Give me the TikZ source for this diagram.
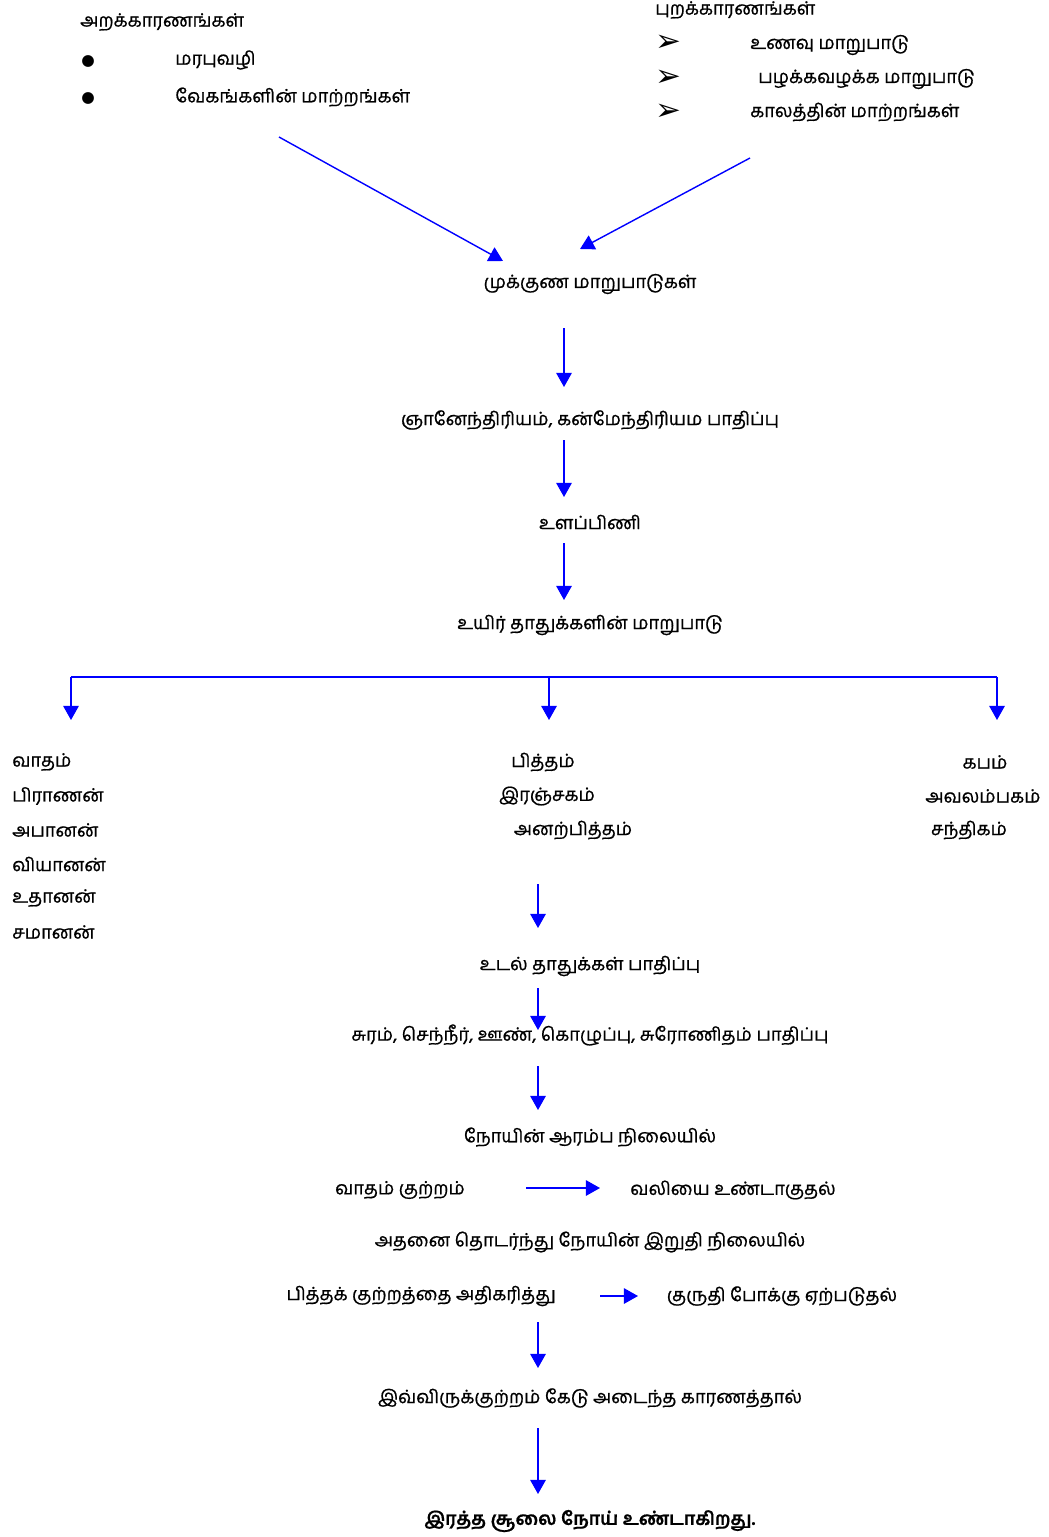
\documentclass[tikz,border=0pt]{standalone}
\usepackage{fontspec}
\setmainfont{Hind Madurai}[Script=Tamil, FakeBold=0.8]
\newfontfamily\symfont{DejaVu Sans}
\usetikzlibrary{arrows.meta,positioning}

\tikzset{
  txt/.style={inner sep=0pt, font=\fontsize{13}{15}\selectfont},
  mark sym/.style={inner sep=0pt, font=\symfont\fontsize{11}{11}\selectfont},
  arr/.style={draw=blue, line width=1pt, -{Triangle[width=11pt,length=10pt]}},
  bline/.style={draw=blue, line width=1pt},
}
\newcommand{\tick}{\scalebox{2}{\symfont ➢}}

\begin{document}
\begin{tikzpicture}[x=0.025cm,y=-0.025cm]
\useasboundingbox (0,0) rectangle (1048,1537);

% inner causes
\node[txt,anchor=west] (arak) at (80,22) {அறக்காரணங்கள்};
\node[mark sym] (b1) at (88,61) {●};
\node[txt,anchor=west] (marabu) at (175,60) {மரபுவழி};
\node[mark sym] (b2) at (88,98) {●};
\node[txt,anchor=west] (vegam) at (175,97) {வேகங்களின் மாற்றங்கள்};

% outer causes
\node[txt,anchor=west] (puram) at (655,10) {புறக்காரணங்கள்};
\node[mark sym] (p1) at (668,43) {\tick};
\node[mark sym] (p2) at (668,78) {\tick};
\node[mark sym] (p3) at (668,112) {\tick};
\node[txt,anchor=west] (unavu) at (750,45) {உணவு மாறுபாடு};
\node[txt,anchor=west] (pazhakkam) at (758,79) {பழக்கவழக்க மாறுபாடு};
\node[txt,anchor=west] (kaalam) at (750,112) {காலத்தின் மாற்றங்கள்};

\node[txt] (mukkunam) at (590,284) {முக்குண மாறுபாடுகள்};
\node[txt] (gnana) at (590,420) {ஞானேந்திரியம், கன்மேந்திரியம பாதிப்பு};
\node[txt] (ulappini) at (590,522) {உளப்பிணி};
\node[txt] (uyir) at (590,625) {உயிர் தாதுக்களின் மாறுபாடு};

% the three humours
\node[txt,anchor=west] (vatham) at (12,762) {வாதம்};
\node[txt,anchor=west] (pranan) at (12,796) {பிராணன்};
\node[txt,anchor=west] (abanan) at (12,830) {அபானன்};
\node[txt,anchor=west] (viyanan) at (12,864) {வியானன்};
\node[txt,anchor=west] (udhanan) at (12,898) {உதானன்};
\node[txt,anchor=west] (samanan) at (12,932) {சமானன்};
\node[txt] (pitham) at (543,762) {பித்தம்};
\node[txt] (ranjakam) at (547,796) {இரஞ்சகம்};
\node[txt] (anal) at (573,830) {அனற்பித்தம்};
\node[txt] (kabam) at (985,762) {கபம்};
\node[txt] (avalam) at (983,796) {அவலம்பகம்};
\node[txt] (santhi) at (969,830) {சந்திகம்};

\node[txt] (udal) at (590,966) {உடல் தாதுக்கள் பாதிப்பு};
\node[txt] (suram) at (590,1035) {சுரம், செந்நீர், ஊண், கொழுப்பு, சுரோணிதம் பாதிப்பு};
\node[txt] (arambam) at (590,1137) {நோயின் ஆரம்ப நிலையில்};
\node[txt] (vathakutram) at (400,1190) {வாதம் குற்றம்};
\node[txt] (valiyai) at (733,1190) {வலியை உண்டாகுதல்};
\node[txt] (iruthi) at (590,1242) {அதனை தொடர்ந்து நோயின் இறுதி நிலையில்};
\node[txt] (pithakutram) at (421,1296) {பித்தக் குற்றத்தை அதிகரித்து};
\node[txt] (kuruthi) at (782,1296) {குருதி போக்கு ஏற்படுதல்};
\node[txt] (kedu) at (590,1398) {இவ்விருக்குற்றம் கேடு அடைந்த காரணத்தால்};
\node[txt,font=\fontsize{13}{15}\selectfont\bfseries] (soolai) at (590,1521) {இரத்த சூலை நோய் உண்டாகிறது.};

% arrow ends
\coordinate (aks) at (279,137);
\coordinate (ake) at (503,261);
\coordinate (pks) at (750,158);
\coordinate (pke) at (580,249);
\coordinate (m1) at (564,328);
\coordinate (m2) at (564,387);
\coordinate (g1) at (564,440);
\coordinate (g2) at (564,497);
\coordinate (u1) at (564,543);
\coordinate (u2) at (564,600);
\coordinate (bl) at (71,677);
\coordinate (bm) at (549,677);
\coordinate (br) at (997,677);
\coordinate (bl2) at (71,720);
\coordinate (bm2) at (549,720);
\coordinate (br2) at (997,720);
\coordinate (t1) at (538,884);
\coordinate (t2) at (538,928);
\coordinate (d1) at (538,988);
\coordinate (d2) at (538,1030);
\coordinate (s1) at (538,1066);
\coordinate (s2) at (538,1110);
\coordinate (v1) at (526,1188);
\coordinate (v2) at (600,1188);
\coordinate (k1) at (600,1296);
\coordinate (k2) at (638,1296);
\coordinate (e1) at (538,1322);
\coordinate (e2) at (538,1368);
\coordinate (f1) at (538,1428);
\coordinate (f2) at (538,1494);

\draw[arr] (aks) -- (ake);
\draw[arr] (pks) -- (pke);
\draw[arr] (m1) -- (m2);
\draw[arr] (g1) -- (g2);
\draw[arr] (u1) -- (u2);
\draw[bline] (bl) -- (br);
\draw[arr] (bl) -- (bl2);
\draw[arr] (bm) -- (bm2);
\draw[arr] (br) -- (br2);
\draw[arr] (t1) -- (t2);
\draw[arr] (d1) -- (d2);
\draw[arr] (s1) -- (s2);
\draw[arr] (v1) -- (v2);
\draw[arr] (k1) -- (k2);
\draw[arr] (e1) -- (e2);
\draw[arr] (f1) -- (f2);
\end{tikzpicture}
\end{document}
